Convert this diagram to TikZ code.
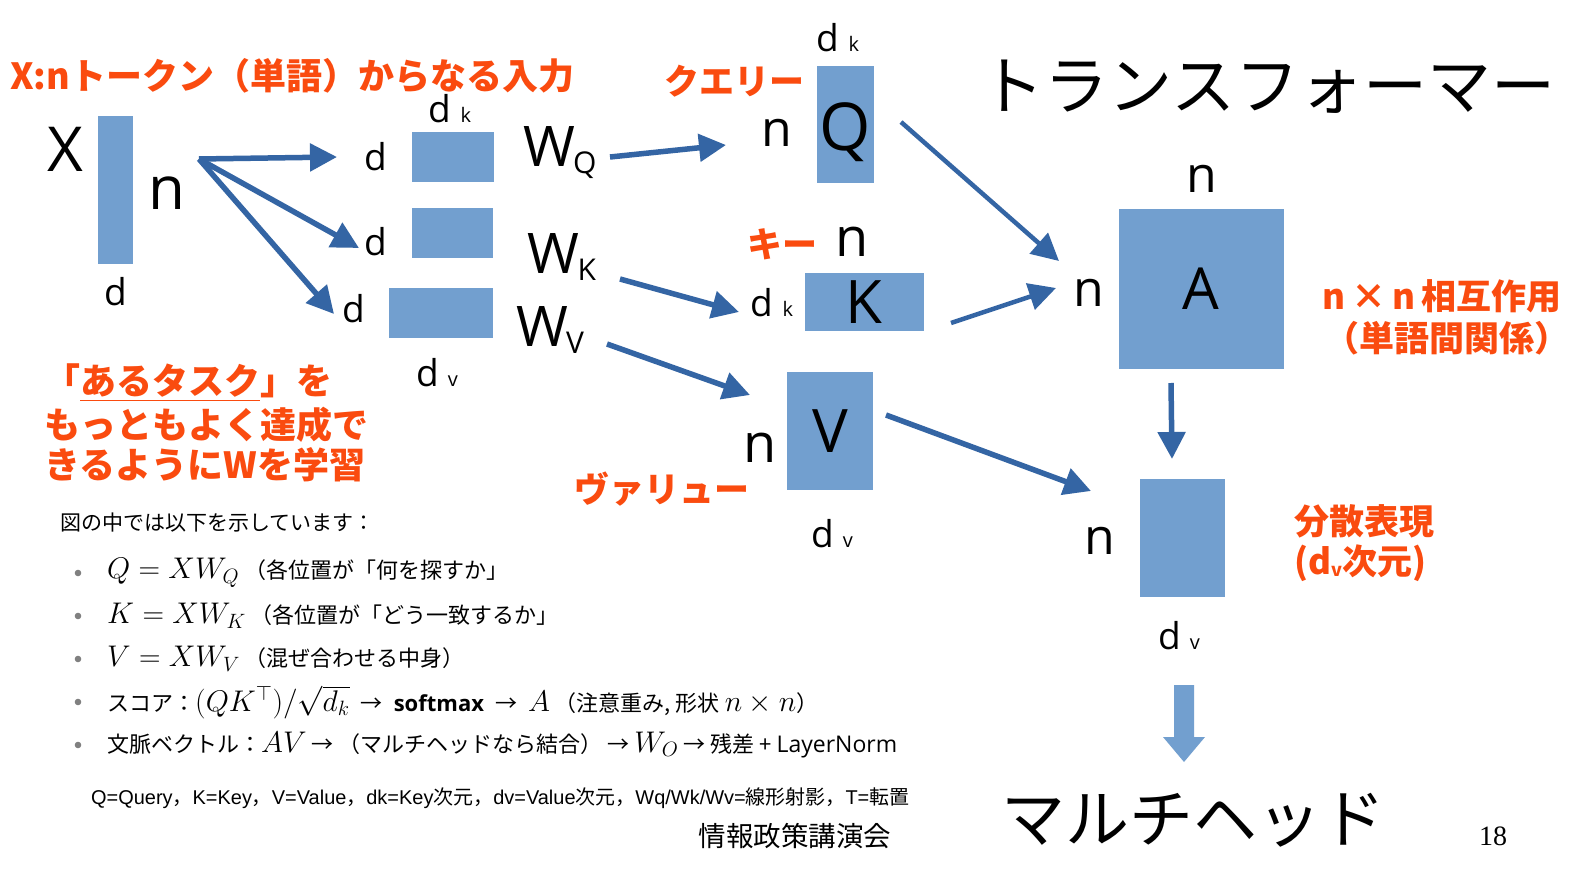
\documentclass[tikz,border=0pt]{standalone}
\usepackage[no-math]{fontspec}
\usepackage{amsmath}
\setmainfont{Noto Sans CJK JP}
\newfontfamily\jp{Noto Sans CJK JP}
\newfontfamily\lat{Open Sans}
\newfontfamily\ser{Liberation Serif}
\newfontfamily\foot{Liberation Sans}
\usetikzlibrary{arrows.meta,calc}
\definecolor{boxblue}{RGB}{114,159,207}
\definecolor{arrblue}{RGB}{52,101,164}
\definecolor{org}{RGB}{250,75,15}
\newcommand{\fs}[1]{\fontsize{#1}{#1}\selectfont}
\newcommand{\mth}[1]{\scalebox{1.2}{\fs{24}$#1$}}
\newcommand{\ar}{\enspace→\enspace}
\newcommand{\sar}{\ →\ }
\tikzset{
  mat/.style={fill=boxblue, inner sep=0pt, text=black, font=\lat\fs{60}},
  conn/.style={draw=arrblue, line width=5.5pt, -{Triangle[length=27pt,width=27pt]}},
  lbl/.style={inner sep=0pt, text=black, font=\lat\fs{37}},
  nlbl/.style={inner sep=0pt, text=black, font=\lat\fs{54}},
  orglbl/.style={inner sep=0pt, text=org, font=\jp\bfseries\fs{35}},
  bigjp/.style={inner sep=0pt, text=black, font=\jp\fs{64}},
  bul/.style={inner sep=0pt, anchor=west, text=black, font=\jp\fs{22}},
}
\begin{document}
\begin{tikzpicture}[x=1pt,y=-1pt]
\useasboundingbox (0,0) rectangle (1587,893);
\fill[white] (0,0) rectangle (1587,893);

% title
\node[orglbl, font=\jp\bfseries\fs{36}, anchor=west] (title) at (10,76) {X:nトークン（単語）からなる入力};

% X
\node[lbl, font=\lat\fs{62}] (Xl) at (65,149) {X};
\node[mat, minimum width=35pt, minimum height=148pt] (X) at (115,190) {};
\node[nlbl, font=\lat\fs{60}] (Xn) at (167,193) {n};
\node[lbl] (Xd) at (116,292) {d};

% weights
\node[lbl] (dkWQ) at (450,109) {d\hspace{0.25em}{\fs{20}k}};
\node[mat, minimum width=82pt, minimum height=50pt] (WQ) at (453,157) {};
\node[mat, minimum width=81pt, minimum height=50pt] (WK) at (452,233) {};
\node[mat, minimum width=104pt, minimum height=50pt] (WV) at (441,313) {};
\node[lbl] (dWQ) at (376,157) {d};
\node[lbl] (dWK) at (376,242) {d};
\node[lbl] (dWV) at (354,309) {d};
\node[lbl] (dvWV) at (437,373) {d\hspace{0.25em}{\fs{20}v}};
\node[lbl, font=\lat\fs{56}] (WQl) at (560,153) {W\kern-2pt{\fs{30}\raisebox{-7pt}{Q}}};
\node[lbl, font=\lat\fs{56}] (WKl) at (562,257) {W\kern-2pt{\fs{30}\raisebox{-7pt}{K}}};
\node[lbl, font=\lat\fs{56}] (WVl) at (550,330) {W\kern-2pt{\fs{30}\raisebox{-7pt}{V}}};

\coordinate (xs) at (199,159);
\coordinate (eQ) at (337,157);
\coordinate (eK) at (359,248);
\coordinate (eV) at (334,314);
\draw[conn] (xs) -- (eQ);
\draw[conn] (xs) -- (eK);
\draw[conn] (xs) -- (eV);

% Q K V
\node[orglbl] (qry) at (734,81) {クエリー};
\node[lbl] (dkQ) at (838,38) {d\hspace{0.25em}{\fs{20}k}};
\node[mat, minimum width=57pt, minimum height=117pt] (Q) at (845,125) {};
\node[inner sep=0pt, font=\lat\fs{66}] (Ql) at (845,132) {Q};
\node[nlbl, font=\lat\fs{50}] (Qn) at (777,133) {n};

\node[orglbl] (key) at (782,244) {キー};
\node[nlbl] (Kn) at (852,242) {n};
\node[mat, minimum width=119pt, minimum height=58pt] (K) at (864,302) {K};
\node[lbl] (dkK) at (772,303) {d\hspace{0.25em}{\fs{20}k}};

\node[mat, minimum width=86pt, minimum height=118pt] (V) at (830,431) {V};
\node[nlbl] (Vn) at (760,448) {n};
\node[orglbl] (val) at (662,489) {ヴァリュー};
\node[lbl] (dvV) at (832,534) {d\hspace{0.25em}{\fs{20}v}};

\coordinate (wq1) at (610,157);
\coordinate (wq2) at (726,145);
\coordinate (wk1) at (620,279);
\coordinate (wk2) at (739,312);
\coordinate (wv1) at (607,344);
\coordinate (wv2) at (750,395);
\draw[conn] (wq1) -- (wq2);
\draw[conn] (wk1) -- (wk2);
\draw[conn] (wv1) -- (wv2);

% A
\node[bigjp] (tf) at (1268,87) {トランスフォーマー};
\node[nlbl, font=\lat\fs{50}] (An) at (1202,179) {n};
\node[mat, font=\lat\fs{58}, minimum width=165pt, minimum height=159pt] (A) at (1201,289) {A};
\node[nlbl, font=\lat\fs{50}] (Anl) at (1089,293) {n};
\node[orglbl] (nn) at (1442,296) {n\,×\,n\,相互作用};
\node[orglbl] (rel) at (1447,338) {（単語間関係）};

\coordinate (qa1) at (901,122);
\coordinate (qa2) at (1059,261);
\coordinate (ka1) at (951,323);
\coordinate (ka2) at (1056,288);
\draw[conn, line width=4.5pt] (qa1) -- (qa2);
\draw[conn, line width=4.5pt] (ka1) -- (ka2);

% output
\node[mat, minimum width=85pt, minimum height=118pt] (O) at (1182,538) {};
\node[nlbl, font=\lat\fs{50}] (On) at (1100,541) {n};
\node[lbl] (dvO) at (1179,636) {d\hspace{0.25em}{\fs{20}v}};
\node[orglbl, anchor=west] (dist) at (1294,521) {分散表現};
\node[orglbl, anchor=west] (dim) at (1294,563) {(d{\fs{18}\raisebox{-2pt}{v}}次元)};

\coordinate (ao1) at (1171,383);
\coordinate (ao2) at (1172,459);
\coordinate (vo1) at (886,415);
\coordinate (vo2) at (1091,491);
\draw[conn] (ao1) -- (ao2);
\draw[conn] (vo1) -- (vo2);

% fat arrow
\coordinate (fa) at (1184,685);
\fill[boxblue] ($(fa)+(-10,0)$) -- ($(fa)+(10,0)$) -- ($(fa)+(10,52)$) -- ($(fa)+(21,52)$)
  -- ($(fa)+(0,77)$) -- ($(fa)+(-21,52)$) -- ($(fa)+(-10,52)$) -- cycle;
\node[bigjp] (mh) at (1193,820) {マルチヘッド};
\node[inner sep=0pt, font=\ser\fs{28}] (pg) at (1493,836) {18};

% orange block
\node[orglbl, font=\jp\bfseries\fs{36}, align=left, anchor=west] (task) at (44,423) {「\underline{あるタスク}」を\\[4pt]もっともよく達成で\\[4pt]きるようにWを学習};

% bullets
\node[bul, font=\jp\fs{21}] (intro) at (60,523) {図の中では以下を示しています：};
\foreach \yy in {573,616,659,702,745} \fill[gray] (78,\yy) circle (3.3pt);
\node[bul] (b1) at (107,573) {\mth{Q = XW_Q}\ （各位置が「何を探すか」};
\node[bul] (b2) at (107,616) {\mth{K = XW_K}\ （各位置が「どう一致するか」};
\node[bul] (b3) at (107,659) {\mth{V = XW_V}\ （混ぜ合わせる中身）};
\node[bul] (b4) at (107,702) {スコア：\mth{(QK^{\top})/\sqrt{d_k}}\ar{\lat\bfseries\fs{22}softmax}\ar\mth{A}\ （注意重み,\ 形状\ \mth{n\times n}）};
\node[bul] (b5) at (107,745) {文脈ベクトル：\mth{AV}\sar（マルチヘッドなら結合）\sar\mth{W_O}\sar 残差\ +\ {\lat\fs{23}LayerNorm}};

% footnote
\node[inner sep=0pt, anchor=west] (fn) at (91,798) {\resizebox{818pt}{!}{\fs{18}{\foot Q=Query}{\jp ，}{\foot K=Key}{\jp ，}{\foot V=Value}{\jp ，}{\foot dk=Key}{\jp 次元，}{\foot dv=Value}{\jp 次元，}{\foot Wq/Wk/Wv=}{\jp 線形射影，}{\foot T=}{\jp 転置}}};
\node[inner sep=0pt, font=\jp\fs{27.5}] (org) at (795,836) {情報政策講演会};
\end{tikzpicture}
\end{document}
